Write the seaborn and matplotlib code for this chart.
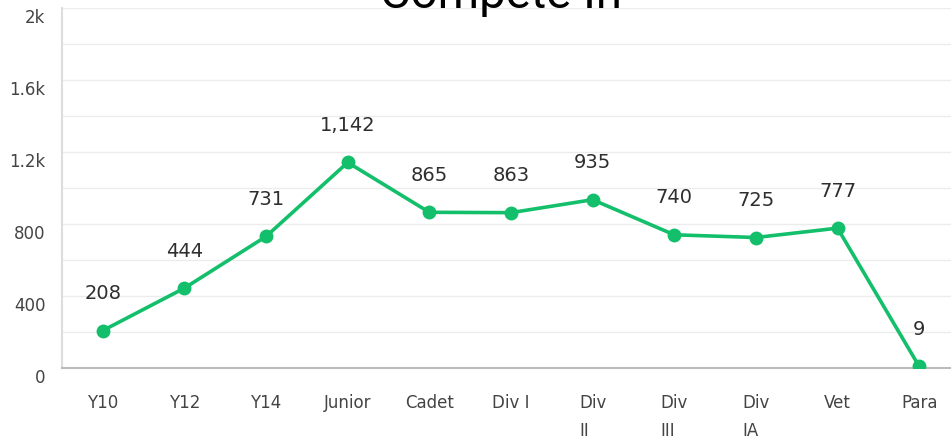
import pandas as pd
import matplotlib
matplotlib.use("Agg")
import matplotlib.pyplot as plt
import seaborn as sns

categories = ["Y10", "Y12", "Y14", "Junior", "Cadet", "Div I", "Div\nII", "Div\nIII", "Div\nIA", "Vet", "Para"]
counts = [208, 444, 731, 1142, 865, 863, 935, 740, 725, 777, 9]
y_ticks = [0, 400, 800, 1200, 1600, 2000]
y_tick_labels = ["0", "400", "800", "1.2k", "1.6k", "2k"]

green = "#13bf6b"

if __name__ == "__main__":
    sns.set_style("white")
    plt.rcParams["font.family"] = ["Roboto", "DejaVu Sans"]

    df = pd.DataFrame({"category": categories, "count": counts})
    df["pos"] = range(len(df))

    fig = plt.figure(figsize=(9.51, 4.39), dpi=100)
    ax = fig.add_axes([62 / 951, 1 - 369 / 439, (951 - 62) / 951, 360 / 439])

    sns.lineplot(data=df, x="pos", y="count", ax=ax, color=green, linewidth=2.6,
                 marker="o", markersize=10, markeredgewidth=0, zorder=3)

    for x, y in zip(df["pos"], df["count"]):
        ax.annotate(f"{y:,}", (x, y), xytext=(0, 20.5), textcoords="offset points",
                    ha="center", va="bottom", fontsize=14, color="#2e2e2e",
                    family=["DejaVu Sans"])

    ax.set_xlim(-0.5, 10.39)
    ax.set_ylim(0, 2000)
    ax.set_xticks(df["pos"])
    ax.set_xticklabels(categories, fontsize=12, color="#444444", va="top",
                       linespacing=1.75, family=["DejaVu Sans"])
    for lbl in ax.get_xticklabels():
        lbl.set_multialignment("left")
    ax.set_yticks(y_ticks)
    ax.set_yticklabels(y_tick_labels, fontsize=12, color="#444444", family=["DejaVu Sans"])
    ax.set_yticks(range(200, 2000, 400), minor=True)
    for lbl in ax.get_yticklabels():
        lbl.set_verticalalignment("top")
    ax.tick_params(axis="x", length=0, pad=18)
    ax.tick_params(axis="y", length=0, pad=12)
    ax.tick_params(axis="y", which="minor", length=0)
    ax.grid(True, which="both", axis="y", color="#ececec", linewidth=1)
    ax.set_axisbelow(True)
    ax.set_xlabel("")
    ax.set_ylabel("")
    for side in ["top", "right"]:
        ax.spines[side].set_visible(False)
    ax.spines["left"].set_color("#dddddd")
    ax.spines["bottom"].set_color("#bbbbbb")
    ax.spines["left"].set_linewidth(1.5)
    ax.spines["bottom"].set_linewidth(1.5)

    fig.text(0.527, 1 - 8 / 439, "Compete In", ha="center", va="baseline",
             fontsize=34, color="black")

    fig.savefig("out.png", dpi=100)
